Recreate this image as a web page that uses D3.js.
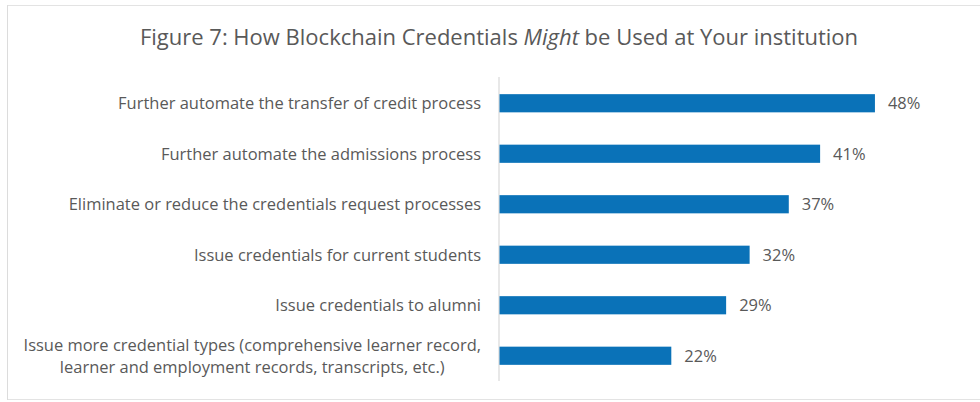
<!DOCTYPE html>
<html>
<head>
<meta charset="utf-8">
<script src="https://cdn.jsdelivr.net/npm/d3@7"></script>
<style>
  html, body { margin: 0; padding: 0; background: #fff; }
  svg { display: block; }
  text { font-family: "Open Sans", Lato, sans-serif; fill: #595959; }
</style>
</head>
<body>
<svg id="chart" width="980" height="402"></svg>
<script>
const categories = [
  ["Further automate the transfer of credit process"],
  ["Further automate the admissions process"],
  ["Eliminate or reduce the credentials request processes"],
  ["Issue credentials for current students"],
  ["Issue credentials to alumni"],
  ["Issue more credential types (comprehensive learner record,", "learner and employment records, transcripts, etc.)"]
];
const values = [48, 41, 37, 32, 29, 22];
const titleParts = ["Figure 7: How Blockchain Credentials ", "Might", " be Used at Your institution"];

const svg = d3.select("#chart");
const W = 980, H = 402;

// measure helper: font size giving a target width
function fitSize(str, target, weight) {
  const t = svg.append("text").style("font-size", "100px").style("font-weight", weight || 400).text(str);
  const w = t.node().getComputedTextLength();
  t.remove();
  return 100 * target / w;
}
const labelSize = fitSize(categories[0][0], 363);
const titleSize = fitSize(titleParts.join(""), 722);

// frame lines
svg.append("line").attr("x1", 7).attr("x2", W).attr("y1", 5.5).attr("y2", 5.5).attr("stroke", "#e3e3e3");
svg.append("line").attr("x1", 7).attr("x2", W).attr("y1", 399.5).attr("y2", 399.5).attr("stroke", "#e3e3e3");
svg.append("line").attr("x1", 7.5).attr("x2", 7.5).attr("y1", 5).attr("y2", 400).attr("stroke", "#dcdcdc");

// title
const title = svg.append("text").attr("x", 499).attr("y", 45).attr("text-anchor", "middle")
  .style("font-size", titleSize + "px");
titleParts.forEach((t, i) => {
  title.append("tspan").text(t).style("font-style", i === 1 ? "italic" : "normal");
});

const keys = categories.map((c, i) => i);
const y = d3.scaleBand().domain(keys).range([78, 381]).paddingInner(0.64).paddingOuter(0.32);
const x = d3.scaleLinear().domain([0, 50]).range([499, 890.6]);

// axis
const axis = svg.append("g").attr("transform", `translate(${x(0)},0)`)
  .call(d3.axisLeft(y).tickSize(0).tickFormat(""));
axis.select(".domain").attr("stroke", "#d9d9d9").attr("stroke-width", 1.2)
  .attr("d", `M0,77V381`);

// bars
svg.append("g").selectAll("rect").data(values).join("rect")
  .attr("x", x(0) + 0.5)
  .attr("y", (d, i) => y(i))
  .attr("width", d => x(d) - x(0) - 0.5)
  .attr("height", y.bandwidth())
  .attr("fill", "#0a72b8");

// value labels
svg.append("g").selectAll("text").data(values).join("text")
  .attr("x", d => x(d) + 13)
  .attr("y", (d, i) => y(i) + y.bandwidth() / 2)
  .attr("dy", "0.35em")
  .style("font-size", labelSize + "px")
  .text(d => d + "%");

// category labels
const lab = svg.append("g");
categories.forEach((lines, i) => {
  const cy = y(i) + y.bandwidth() / 2;
  if (lines.length === 1) {
    lab.append("text").attr("x", 481).attr("y", cy).attr("dy", "0.35em")
      .attr("text-anchor", "end").style("font-size", labelSize + "px").text(lines[0]);
  } else {
    const t1 = lab.append("text").attr("x", 481).attr("y", cy - 11).attr("dy", "0.35em")
      .attr("text-anchor", "end").style("font-size", labelSize + "px").text(lines[0]);
    const w1 = t1.node().getComputedTextLength();
    lab.append("text").attr("x", 481 - w1 / 2).attr("y", cy + 11).attr("dy", "0.35em")
      .attr("text-anchor", "middle").style("font-size", labelSize + "px").text(lines[1]);
  }
});
</script>
</body>
</html>
